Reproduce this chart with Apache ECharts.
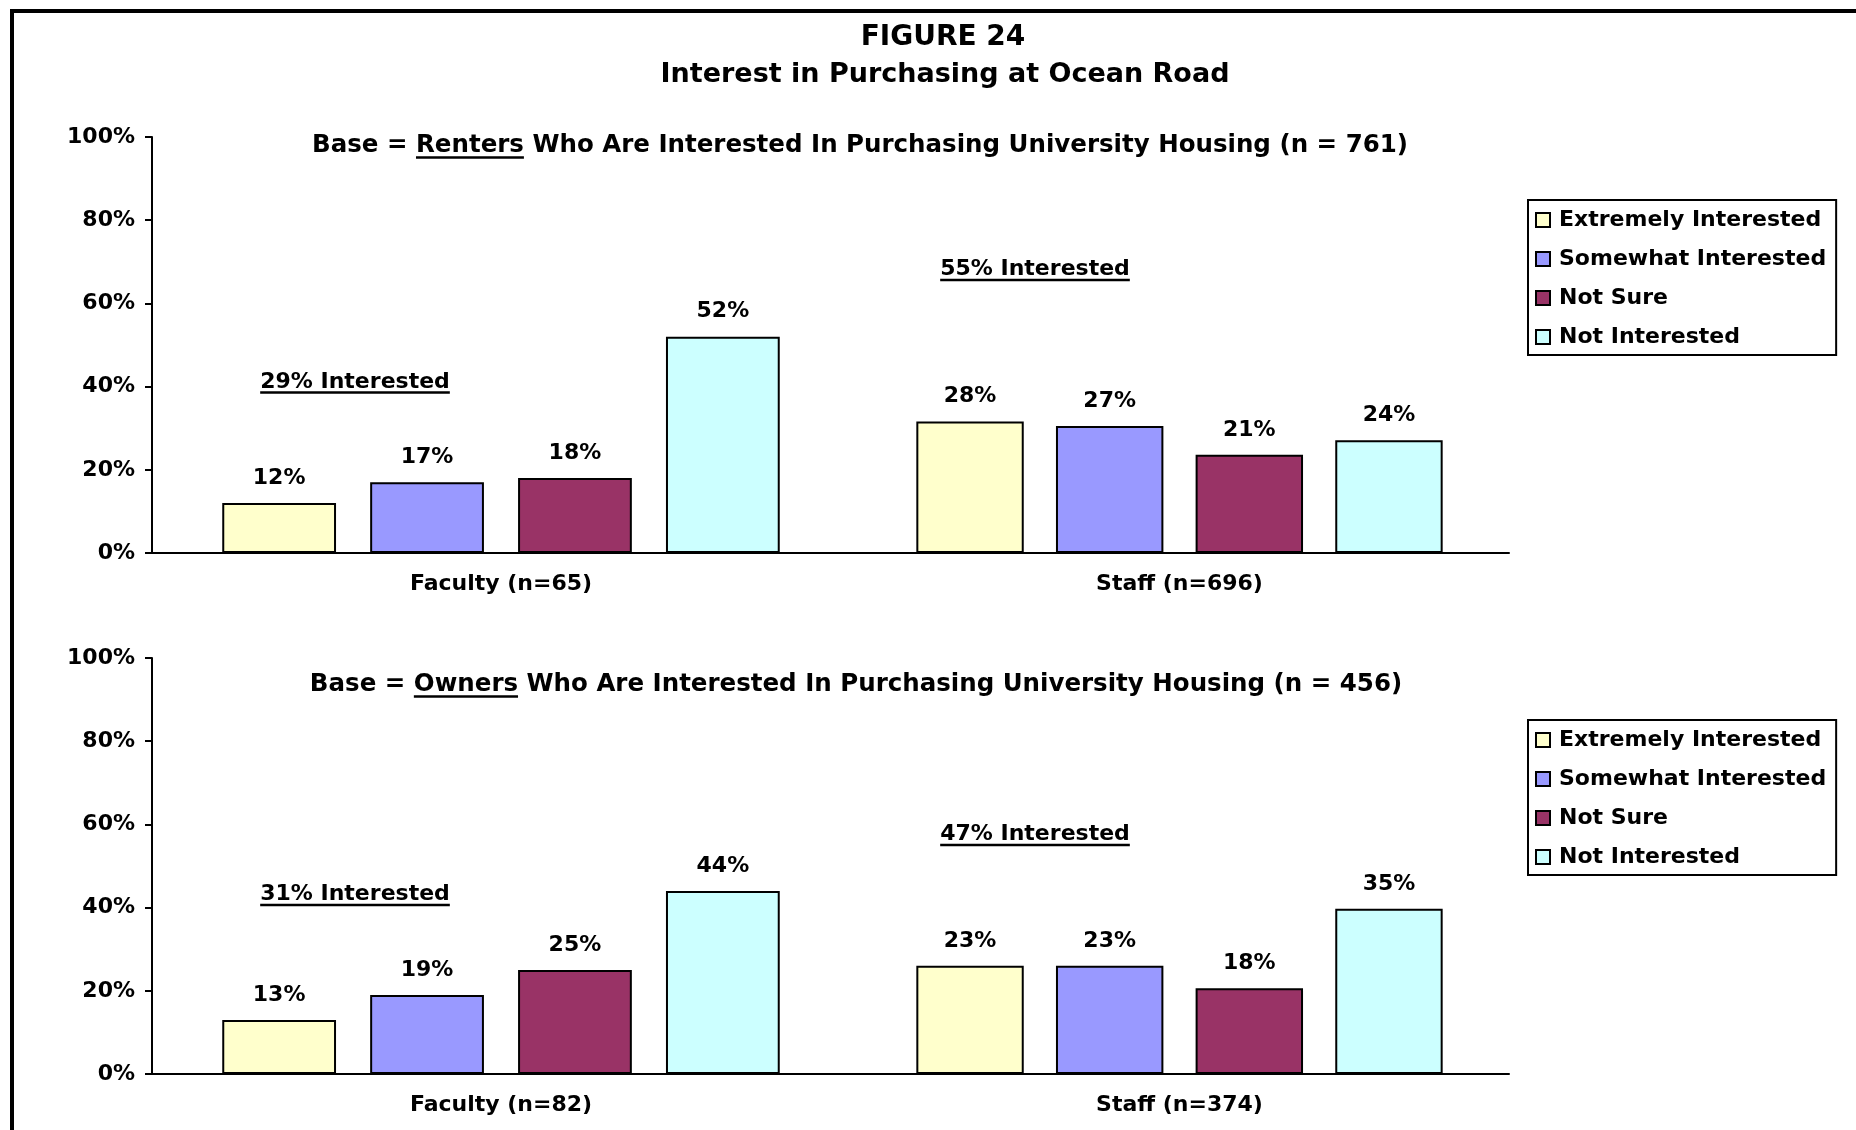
<!DOCTYPE html>
<html>
<head>
<meta charset="utf-8">
<script src="https://cdn.jsdelivr.net/npm/echarts@6/dist/echarts.min.js"></script>
<style>
  html, body { margin: 0; padding: 0; background: #fff; }
  #chart { width: 1856px; height: 1130px; }
</style>
</head>
<body>
<div id="chart"></div>
<script>
// interest levels and their colours
const levels = ['Extremely Interested', 'Somewhat Interested', 'Not Sure', 'Not Interested'];
const colors = ['#FFFFCC', '#9999FF', '#993366', '#CCFFFF'];

// renters panel
const renterGroups = ['Faculty (n=65)', 'Staff (n=696)'];
const renterFaculty = [12, 17, 18, 52];
const renterStaff = [31.6, 30.5, 23.6, 27.1];
const renterFacultyLabels = ['12%', '17%', '18%', '52%'];
const renterStaffLabels = ['28%', '27%', '21%', '24%'];
const renterInterested = ['29% Interested', '55% Interested'];

// owners panel
const ownerGroups = ['Faculty (n=82)', 'Staff (n=374)'];
const ownerFaculty = [13, 19, 25, 44];
const ownerStaff = [26, 26, 20.6, 39.7];
const ownerFacultyLabels = ['13%', '19%', '25%', '44%'];
const ownerStaffLabels = ['23%', '23%', '18%', '35%'];
const ownerInterested = ['31% Interested', '47% Interested'];

const FONT = '"DejaVu Sans", "Liberation Sans", Arial, sans-serif';

// measure text so underlined words can be placed inside a line
const ctx = document.createElement('canvas').getContext('2d');
function textWidth(str, size) {
    ctx.font = 'bold ' + size + 'px ' + FONT;
    return ctx.measureText(str).width;
}

// parts: [[text, underline], ...] laid out centred on cx
function underlined(parts, cx, cy, size) {
    const widths = parts.map(p => textWidth(p[0], size));
    const total = widths.reduce((a, b) => a + b, 0);
    let x = cx - total / 2;
    const out = [];
    parts.forEach((p, i) => {
        out.push({
            type: 'text',
            style: {
                text: p[0], x: x, y: cy, fill: '#000',
                font: 'bold ' + size + 'px ' + FONT,
                align: 'left', verticalAlign: 'middle'
            }
        });
        if (p[1]) {
            out.push({
                type: 'rect',
                shape: { x: x, y: cy + size * 0.42, width: widths[i], height: 2.5 },
                style: { fill: '#000' }
            });
        }
        x += widths[i];
    });
    return out;
}

const boldText = { fontFamily: FONT, fontWeight: 'bold', fontSize: 22, color: '#000' };

// panel geometry
const axisLeft = 152, axisMid = 850, axisRight = 1509;
const panels = [
    { top: 137, groups: renterGroups, vals: [renterFaculty, renterStaff], labels: [renterFacultyLabels, renterStaffLabels] },
    { top: 658, groups: ownerGroups, vals: [ownerFaculty, ownerStaff], labels: [ownerFacultyLabels, ownerStaffLabels] }
];

let grid = [], xAxis = [], yAxis = [], series = [];

panels.forEach((p, pi) => {
    [[axisLeft, axisMid], [axisMid, axisRight]].forEach((span, gi) => {
        const idx = grid.length;
        grid.push({ left: span[0], top: p.top, width: span[1] - span[0], height: 416 });
        xAxis.push({
            type: 'category',
            gridIndex: idx,
            data: [p.groups[gi]],
            boundaryGap: true,
            axisLine: { lineStyle: { color: '#000', width: 2 } },
            axisTick: { length: 7, lineStyle: { color: '#000', width: 2 } },
            axisLabel: Object.assign({ margin: 20 }, boldText)
        });
        yAxis.push({
            type: 'value',
            gridIndex: idx,
            show: gi === 0,
            min: 0,
            max: 100,
            interval: 20,
            splitLine: { show: false },
            axisLine: { show: true, lineStyle: { color: '#000', width: 2 } },
            axisTick: { show: true, length: 7, lineStyle: { color: '#000', width: 2 } },
            axisLabel: Object.assign({ margin: 17, formatter: '{value}%' }, boldText)
        });
        levels.forEach((name, i) => {
            series.push({
                type: 'bar',
                name: name,
                xAxisIndex: idx,
                yAxisIndex: idx,
                data: [p.vals[gi][i]],
                barWidth: '16.3%',
                barGap: '30%',
                itemStyle: { color: colors[i], borderColor: '#000', borderWidth: 2 },
                label: Object.assign({
                    show: true,
                    position: 'top',
                    distance: 14,
                    formatter: p.labels[gi][i]
                }, boldText)
            });
        });
    });
});

function legendAt(top) {
    return {
        orient: 'vertical',
        left: 1528,
        top: top,
        data: levels,
        icon: 'rect',
        itemWidth: 14,
        itemHeight: 14,
        itemGap: 17,
        padding: [9, 10, 7, 7],
        borderColor: '#000',
        borderWidth: 2,
        selectedMode: false,
        textStyle: Object.assign({ lineHeight: 22, padding: [0, 0, 0, 4] }, boldText)
    };
}

const graphic = [
    { type: 'rect', shape: { x: 12, y: 11, width: 2000, height: 2000 }, style: { fill: 'none', stroke: '#000', lineWidth: 4 } },
    { type: 'text', style: { text: 'FIGURE 24', x: 943, y: 38, fill: '#000', font: 'bold 28px ' + FONT, align: 'center', verticalAlign: 'middle' } },
    { type: 'text', style: { text: 'Interest in Purchasing at Ocean Road', x: 945, y: 75, fill: '#000', font: 'bold 27px ' + FONT, align: 'center', verticalAlign: 'middle' } }
].concat(
    underlined([['Base = ', false], ['Renters', true], [' Who Are Interested In Purchasing University Housing (n = 761)', false]], 860, 146, 24.5),
    underlined([['Base = ', false], ['Owners', true], [' Who Are Interested In Purchasing University Housing (n = 456)', false]], 856, 685, 24.5),
    underlined([[renterInterested[0], true]], 355, 382, 22),
    underlined([[renterInterested[1], true]], 1035, 269.5, 22),
    underlined([[ownerInterested[0], true]], 355, 894.5, 22),
    underlined([[ownerInterested[1], true]], 1035, 834.5, 22)
);

const chart = echarts.init(document.getElementById('chart'));
chart.setOption({
    animation: false,
    backgroundColor: '#fff',
    grid: grid,
    xAxis: xAxis,
    yAxis: yAxis,
    series: series,
    legend: [legendAt(200), legendAt(720)],
    graphic: graphic
});
</script>
</body>
</html>
